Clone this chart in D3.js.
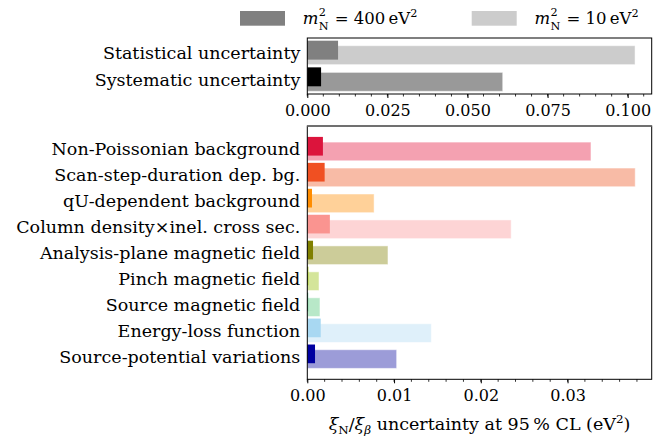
<!DOCTYPE html>
<html>
<head>
<meta charset="utf-8">
<script src="https://cdn.jsdelivr.net/npm/d3@7"></script>
<style>
  html, body { margin: 0; padding: 0; background: #fff; }
  svg text { font-family: "DejaVu Serif", serif; fill: #000; }
</style>
</head>
<body>
<svg id="chart" width="672" height="441"></svg>
<script>
// ---------- data ----------
const topCategories = ["Statistical uncertainty", "Systematic uncertainty"];
const topHigh = [0.0096, 0.0043];   // m_N^2 = 400 eV^2
const topLow  = [0.1023, 0.0610];   // m_N^2 = 10 eV^2
const topHighColors = ["#808080", "#000000"];
const topLowColors  = ["#cccccc", "#999999"];
const topTicks = [0, 0.025, 0.05, 0.075, 0.1];

const sysCategories = [
  "Non-Poissonian background",
  "Scan-step-duration dep. bg.",
  "qU-dependent background",
  "Column density\u00d7inel. cross sec.",
  "Analysis-plane magnetic field",
  "Pinch magnetic field",
  "Source magnetic field",
  "Energy-loss function",
  "Source-potential variations"
];
const sysHigh = [0.0018, 0.0020, 0.00054, 0.0026, 0.00066, 0.00012, 0.0001, 0.00155, 0.00089];
const sysLow  = [0.0327, 0.0378, 0.0077, 0.0235, 0.0093, 0.00135, 0.00146, 0.0143, 0.0103];
const sysHighColors = ["#dc143c", "#f05022", "#ff8c00", "#fa9490", "#808000", "#a8c800", "#3cb371", "#a8d8f2", "#0000a0"];
const sysLowColors  = ["#f4a1b1", "#f8bba6", "#ffd199", "#fdd4d5", "#cccc99", "#d4e59a", "#b8e8c8", "#dff0fa", "#9c9cd8"];
const sysTicks = [0, 0.01, 0.02, 0.03];

const legendItems = [
  {label: "400", color: "#808080"},
  {label: "10", color: "#cccccc"}
];

// ---------- layout ----------
const svg = d3.select("#chart");
const left = 307.3, right = 651.7;
const FS = 17.5;
const TFS = 16;
const LFS = 16.5;

function panel(cfg) {
  const g = svg.append("g");
  const x = d3.scaleLinear().domain([0, cfg.xmax]).range([left, right]);
  const y = d3.scaleLinear().domain(cfg.ydom).range([cfg.top, cfg.bottom]);
  const unit = y(1) - y(0);
  const bh = cfg.bh * unit, off = cfg.off * unit;
  const idx = d3.range(cfg.cats.length);

  g.selectAll("rect.low").data(idx).join("rect")
    .attr("x", x(0)).attr("y", i => y(i) + off - bh / 2)
    .attr("width", i => x(cfg.low[i]) - x(0)).attr("height", bh)
    .attr("fill", i => cfg.lowColors[i])
    .attr("stroke", "#ffffff").attr("stroke-opacity", 0.5).attr("stroke-width", 1);
  g.selectAll("rect.high").data(idx).join("rect")
    .attr("x", x(0)).attr("y", i => y(i) - off - bh / 2)
    .attr("width", i => x(cfg.high[i]) - x(0)).attr("height", bh)
    .attr("fill", i => cfg.highColors[i]);

  g.append("rect").attr("x", left).attr("y", cfg.top)
    .attr("width", right - left).attr("height", cfg.bottom - cfg.top)
    .attr("fill", "none").attr("stroke", "#000").attr("stroke-width", 1);
  if (cfg.grayTop) {
    g.append("line").attr("x1", left).attr("x2", right)
      .attr("y1", cfg.top).attr("y2", cfg.top)
      .attr("stroke", "#707070").attr("stroke-width", 2);
  }

  g.selectAll("text.cat").data(idx).join("text")
    .attr("x", left - 7).attr("y", i => y(i))
    .attr("dy", "0.36em").attr("text-anchor", "end")
    .attr("font-size", FS)
    .text(i => cfg.cats[i]);

  const minor = d3.range(0, cfg.xmax + 1e-9, cfg.minorStep);
  const ax = g.append("g").attr("transform", `translate(0,${cfg.bottom})`);
  ax.selectAll("line.minor").data(minor).join("line")
    .attr("x1", d => x(d)).attr("x2", d => x(d))
    .attr("y1", 0).attr("y2", 2.5).attr("stroke", "#000").attr("stroke-width", 0.8);
  ax.call(d3.axisBottom(x).tickValues(cfg.ticks).tickFormat(d3.format(cfg.fmt)).tickSize(4).tickSizeOuter(0))
    .call(a => a.select(".domain").remove())
    .call(a => a.selectAll("text").attr("font-size", TFS).attr("font-family", "DejaVu Serif").attr("fill", "#000").attr("dy", "0.95em"))
    .call(a => a.selectAll(".tick line").attr("stroke", "#000"));
  return {x, y};
}

panel({
  cats: topCategories, high: topHigh, low: topLow,
  highColors: topHighColors, lowColors: topLowColors,
  xmax: 0.1075, ticks: topTicks, fmt: ".3f", minorStep: 0.005,
  top: 38, bottom: 94, ydom: [-0.55, 1.55], bh: 0.71, off: 0.094
});

panel({
  cats: sysCategories, high: sysHigh, low: sysLow,
  highColors: sysHighColors, lowColors: sysLowColors,
  xmax: 0.0397, ticks: sysTicks, fmt: ".2f", minorStep: 0.002,
  top: 126, bottom: 379.3, ydom: [-0.88, 8.88], bh: 0.72, off: 0.1, grayTop: true
});

// ---------- legend ----------
const legX = [240, 471.7];
legendItems.forEach((d, k) => {
  const x0 = legX[k];
  svg.append("rect").attr("x", x0).attr("y", 11).attr("width", 45).attr("height", 14.7).attr("fill", d.color);
  const tx = x0 + 62.7;
  svg.append("text").attr("x", tx).attr("y", 24).attr("font-size", LFS).attr("font-style", "italic").text("m");
  svg.append("text").attr("x", tx + 16).attr("y", 16).attr("font-size", LFS * 0.68).text("2");
  svg.append("text").attr("x", tx + 16).attr("y", 29.5).attr("font-size", LFS * 0.68).text("N");
  const t2 = svg.append("text").attr("x", tx + 32).attr("y", 24).attr("font-size", LFS);
  t2.append("tspan").text("= " + d.label + "\u2009eV");
  t2.append("tspan").attr("font-size", LFS * 0.68).attr("dy", -7).text("2");
});

// ---------- x label ----------
const xl = svg.append("text").attr("x", (left + right) / 2).attr("y", 430)
  .attr("text-anchor", "middle").attr("font-size", FS);
xl.append("tspan").attr("font-style", "italic").text("\u03be");
xl.append("tspan").attr("font-size", FS * 0.68).attr("dy", 4).text("N");
xl.append("tspan").attr("dy", -4).text("/");
xl.append("tspan").attr("font-style", "italic").text("\u03be");
xl.append("tspan").attr("font-size", FS * 0.68).attr("font-style", "italic").attr("dy", 4).text("\u03b2");
xl.append("tspan").attr("dy", -4).text(" uncertainty at 95\u2009% CL (eV");
xl.append("tspan").attr("font-size", FS * 0.68).attr("dy", -7).text("2");
xl.append("tspan").attr("dy", 7).text(")");
</script>
</body>
</html>
